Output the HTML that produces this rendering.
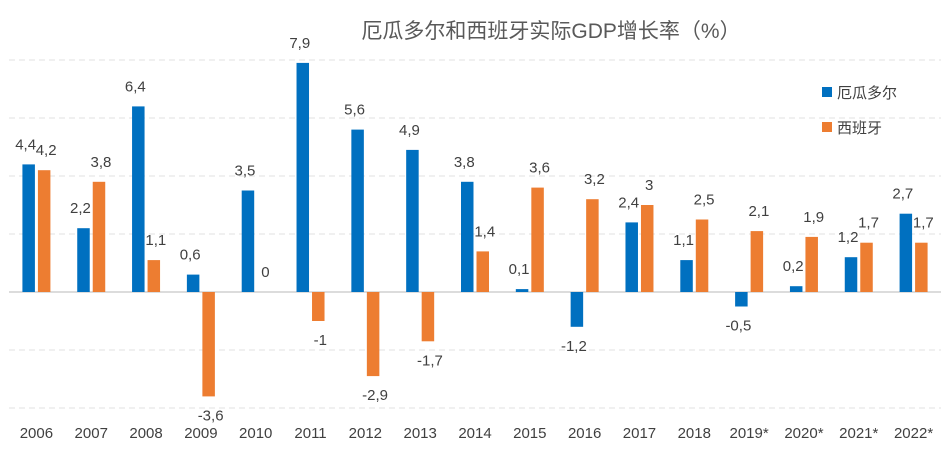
<!DOCTYPE html>
<html><head><meta charset="utf-8"><style>
body{margin:0;background:#fff;}
svg text{font-family:"Liberation Sans","Noto Sans CJK SC",sans-serif;}
</style></head><body>
<svg id="chart" width="944" height="450" viewBox="0 0 944 450">
<text x="551" y="38" text-anchor="middle" font-size="21" fill="#595959">厄瓜多尔和西班牙实际GDP增长率（%）</text>
<g id="grid"></g><g id="bars"></g><g id="labels"></g><g id="xaxis"></g>
<g>
<rect x="822" y="87" width="10" height="10" fill="#0070C0"/>
<text x="837" y="98" font-size="15" fill="#404040">厄瓜多尔</text>
<rect x="822" y="122" width="10" height="10" fill="#ED7D31"/>
<text x="837" y="133" font-size="15" fill="#404040">西班牙</text>
</g>
</svg>
<script>
const categories=["2006","2007","2008","2009","2010","2011","2012","2013","2014","2015","2016","2017","2018","2019*","2020*","2021*","2022*"];
const ecuador=[4.4,2.2,6.4,0.6,3.5,7.9,5.6,4.9,3.8,0.1,-1.2,2.4,1.1,-0.5,0.2,1.2,2.7];
const spain=[4.2,3.8,1.1,-3.6,0,-1,-2.9,-1.7,1.4,3.6,3.2,3,2.5,2.1,1.9,1.7,1.7];
const yTicks=[8,6,4,2,0,-2,-4];
const NS="http://www.w3.org/2000/svg";
const x0=9,x1=941,step=(x1-x0)/categories.length;
const y=v=>292-v*29;
const fmt=v=>String(v).replace('.',',');
function mk(tag,attrs,parent){const e=document.createElementNS(NS,tag);for(const k in attrs)e.setAttribute(k,attrs[k]);document.getElementById(parent).appendChild(e);return e;}
yTicks.forEach(t=>{
 const l=mk('line',{x1:x0,x2:x1,y1:y(t),y2:y(t),stroke:t===0?'#d0d0d0':'#e0e0e0','stroke-width':t===0?1.5:1,'stroke-dasharray':t===0?'':'6,4'},'grid');
 
 
});
const bw=12.5;
function series(vals,off,color,name,lshift){
 vals.forEach((v,i)=>{
  const cx=x0+step*(i+0.5);
  const bx=cx+off;
  const r=mk('rect',{x:bx,y:Math.min(y(v),y(0)),width:bw,height:Math.abs(y(v)-y(0)),fill:color},'bars');
  
  
  const ty=v>=0?y(v)-15:y(v)+24;
  const t=mk('text',{x:bx+bw/2+lshift,y:ty,'text-anchor':'middle','font-size':15,fill:'#404040'},'labels');
  t.textContent=fmt(v);
  
  
 });
}
series(ecuador,-bw-1.5,'#0070C0','ecuador',-3);
series(spain,1.5,'#ED7D31','spain',2);
categories.forEach((c,i)=>{
 const t=mk('text',{x:x0+step*(i+0.5),y:438,'text-anchor':'middle','font-size':15,fill:'#404040'},'xaxis');
 t.textContent=c;
 
 
});
</script>
</body></html>
